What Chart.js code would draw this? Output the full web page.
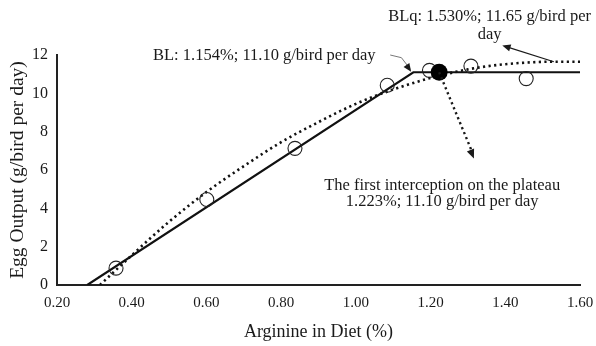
<!DOCTYPE html>
<html>
<head>
<meta charset="utf-8">
<script src="https://cdn.jsdelivr.net/npm/chart.js@4.4.1/dist/chart.umd.min.js"></script>
<style>
  html, body { margin: 0; padding: 0; background: #fff; }
  #wrap { width: 596px; height: 346px; }
</style>
</head>
<body>
<div id="wrap"><canvas id="eggChart"></canvas></div>
<script>
// observed egg output (open circles)
var obsX = [0.358, 0.601, 0.837, 1.084, 1.197, 1.308, 1.456];
var obsY = [0.88, 4.46, 7.13, 10.42, 11.20, 11.42, 10.77];

// broken-line (BL) fit, solid
var blX = [0.281, 1.154, 1.60];
var blY = [0, 11.10, 11.10];

// quadratic broken-line (BLq) fit, dotted
var blqX = [0.315, 0.40, 0.50, 0.60, 0.70, 0.80, 0.90, 1.00, 1.10, 1.20, 1.30, 1.40, 1.53, 1.60];
var blqY = [0, 1.55, 3.3, 4.85, 6.2, 7.45, 8.5, 9.45, 10.2, 10.8, 11.25, 11.52, 11.65, 11.65];

// first interception on the plateau (filled dot)
var interX = [1.223];
var interY = [11.10];

var xTicks = [0.20, 0.40, 0.60, 0.80, 1.00, 1.20, 1.40, 1.60];
var yTicks = [0, 2, 4, 6, 8, 10, 12];

function toPoints(xs, ys) {
  return xs.map(function (x, i) {
    return { x: x, y: ys[i] };
  });
}

var ink = "#1a1a1a";
var serif = "'Liberation Serif', 'Times New Roman', serif";

function arrowHead(ctx, fromX, fromY, toX, toY, size) {
  var ang = Math.atan2(toY - fromY, toX - fromX);
  ctx.beginPath();
  ctx.moveTo(toX, toY);
  ctx.lineTo(toX - size * Math.cos(ang - 0.4), toY - size * Math.sin(ang - 0.4));
  ctx.lineTo(toX - size * Math.cos(ang + 0.4), toY - size * Math.sin(ang + 0.4));
  ctx.closePath();
  ctx.fill();
}

// annotation texts and arrows, placed with the chart's own scales
var notes = {
  id: "notes",
  afterDatasetsDraw: function (chart) {
    var ctx = chart.ctx;
    var xs = chart.scales.x;
    var ys = chart.scales.y;
    function px(v) { return xs.getPixelForValue(v); }
    function py(v) { return ys.getPixelForValue(v); }

    ctx.save();
    ctx.fillStyle = ink;
    ctx.strokeStyle = ink;
    ctx.font = "16.5px " + serif;
    ctx.textBaseline = "middle";

    // BL label
    ctx.textAlign = "left";
    ctx.fillText("BL: 1.154%; 11.10 g/bird per day", px(0.457), py(11.97));

    // BLq label
    ctx.textAlign = "center";
    ctx.fillText("BLq: 1.530%; 11.65 g/bird per", px(1.358), py(14.0));
    ctx.fillText("day", px(1.358), py(13.08));

    // plateau label
    ctx.fillText("The first interception on the plateau", px(1.231), py(5.2));
    ctx.fillText("1.223%; 11.10 g/bird per day", px(1.231), py(4.33));

    // BL arrow (thin, slightly bent)
    ctx.lineWidth = 0.8;
    ctx.strokeStyle = "#555";
    ctx.beginPath();
    ctx.moveTo(px(1.092), py(12.0));
    ctx.lineTo(px(1.122), py(11.86));
    ctx.lineTo(px(1.146), py(11.25));
    ctx.stroke();
    ctx.fillStyle = ink;
    arrowHead(ctx, px(1.122), py(11.86), px(1.148), py(11.12), 9);

    // BLq arrow
    ctx.strokeStyle = ink;
    ctx.lineWidth = 1.2;
    ctx.beginPath();
    ctx.moveTo(px(1.53), py(11.65));
    ctx.lineTo(px(1.40), py(12.45));
    ctx.stroke();
    arrowHead(ctx, px(1.53), py(11.65), px(1.392), py(12.5), 9);

    // dotted arrow from the interception point
    ctx.lineWidth = 2.4;
    ctx.setLineDash([2.2, 3.2]);
    ctx.beginPath();
    ctx.moveTo(px(1.223), py(11.10));
    ctx.lineTo(px(1.31), py(7.0));
    ctx.stroke();
    ctx.setLineDash([]);
    arrowHead(ctx, px(1.223), py(11.10), px(1.316), py(6.6), 10);

    ctx.restore();
  }
};

var ctx = document.getElementById("eggChart").getContext("2d");
var eggChart = new Chart(ctx, {
  type: "scatter",
  data: {
    datasets: [
      {
        label: "Interception",
        data: toPoints(interX, interY),
        pointRadius: 8.5,
        pointBackgroundColor: "#000",
        pointBorderColor: "#000",
        pointBorderWidth: 0
      },
      {
        label: "Observed",
        data: toPoints(obsX, obsY),
        pointRadius: 7,
        pointBackgroundColor: "rgba(255,255,255,0)",
        pointBorderColor: "#222",
        pointBorderWidth: 1.1
      },
      {
        label: "BL",
        data: toPoints(blX, blY),
        showLine: true,
        borderColor: "#111",
        borderWidth: 2.2,
        pointRadius: 0
      },
      {
        label: "BLq",
        data: toPoints(blqX, blqY),
        showLine: true,
        borderColor: "#111",
        borderWidth: 2.6,
        borderDash: [2.2, 3.4],
        tension: 0.4,
        cubicInterpolationMode: "monotone",
        pointRadius: 0
      }
    ]
  },
  options: {
    responsive: true,
    maintainAspectRatio: false,
    animation: false,
    layout: { padding: { left: 0, right: 16, top: 55, bottom: 0 } },
    plugins: {
      legend: { display: false },
      tooltip: { enabled: false }
    },
    scales: {
      x: {
        type: "linear",
        min: 0.2,
        max: 1.6,
        afterBuildTicks: function (scale) {
          scale.ticks = xTicks.map(function (v) { return { value: v }; });
        },
        afterFit: function (scale) {
          scale.height = 61;
          scale.paddingRight = 14;
        },
        grid: { display: false, drawTicks: false },
        border: { display: true, color: "#222", width: 2 },
        ticks: {
          padding: 9,
          color: ink,
          font: { family: serif, size: 15 },
          maxRotation: 0,
          callback: function (v) { return Number(v).toFixed(2); }
        },
        title: {
          display: true,
          text: "Arginine in Diet (%)",
          color: ink,
          font: { family: serif, size: 18 },
          padding: { top: 0, bottom: 3 }
        }
      },
      y: {
        type: "linear",
        min: 0,
        max: 12,
        afterBuildTicks: function (scale) {
          scale.ticks = yTicks.map(function (v) { return { value: v }; });
        },
        afterFit: function (scale) { scale.width = 57; },
        grid: { display: false, drawTicks: false },
        border: { display: true, color: "#222", width: 2 },
        ticks: {
          padding: 9,
          color: ink,
          font: { family: serif, size: 16 }
        },
        title: {
          display: true,
          text: "Egg Output (g/bird per day)",
          color: ink,
          font: { family: serif, size: 19.5 },
          padding: { top: 6.5, bottom: 0 }
        }
      }
    }
  },
  plugins: [notes]
});
</script>
</body>
</html>
